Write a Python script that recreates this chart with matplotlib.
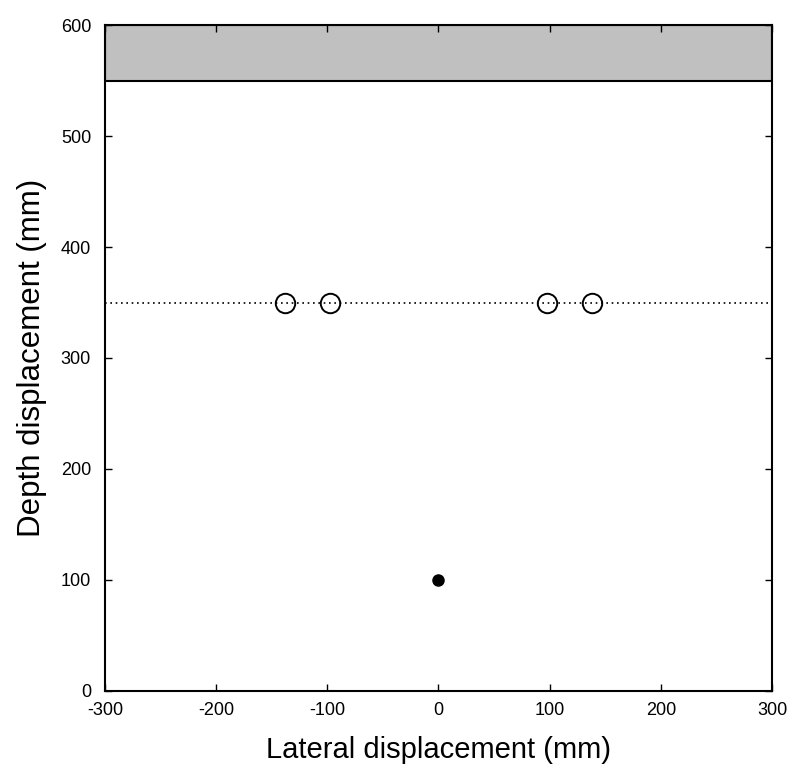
import matplotlib
matplotlib.use("Agg")
import matplotlib.pyplot as plt

plt.rcParams["font.family"] = ["Liberation Sans", "DejaVu Sans"]
plt.rcParams["axes.unicode_minus"] = False

# open markers on the dotted line, filled point below
open_x = [-138, -98, 98, 138]
open_y = [350, 350, 350, 350]
dot_x = [0]
dot_y = [100]
line_depth = 350
band_bottom = 550
band_top = 600

x_ticks = [-300, -200, -100, 0, 100, 200, 300]
y_ticks = [0, 100, 200, 300, 400, 500, 600]


def main():
    fig = plt.figure(figsize=(7.91, 7.82), dpi=100)
    ax = fig.add_axes([0.1327, 0.1164, 0.8433, 0.8516])

    ax.axhspan(band_bottom, band_top, facecolor="#c0c0c0", edgecolor="black",
               linewidth=1.5, zorder=1)
    ax.axhline(line_depth, color="black", linestyle=(0, (1, 2.2)), linewidth=1.2, zorder=2)
    ax.plot(open_x, open_y, "o", markersize=14, markerfacecolor="none",
            markeredgecolor="black", markeredgewidth=1.4, zorder=3)
    ax.plot(dot_x, dot_y, "o", markersize=8, color="black", zorder=3)

    ax.set_xlim(-300, 300)
    ax.set_ylim(0, 600)
    ax.set_xticks(x_ticks)
    ax.set_yticks(y_ticks)
    ax.tick_params(direction="in", length=5, width=1, top=True, right=True,
                   labelsize=13)
    ax.tick_params(axis="y", pad=10)
    ax.tick_params(axis="x", pad=8)
    for s in ax.spines.values():
        s.set_linewidth(1.5)

    ax.set_xlabel("Lateral displacement (mm)", fontsize=21, labelpad=12)
    ax.set_ylabel("Depth displacement (mm)", fontsize=22.5, labelpad=10)

    fig.savefig("out.png", dpi=100)


if __name__ == "__main__":
    main()
